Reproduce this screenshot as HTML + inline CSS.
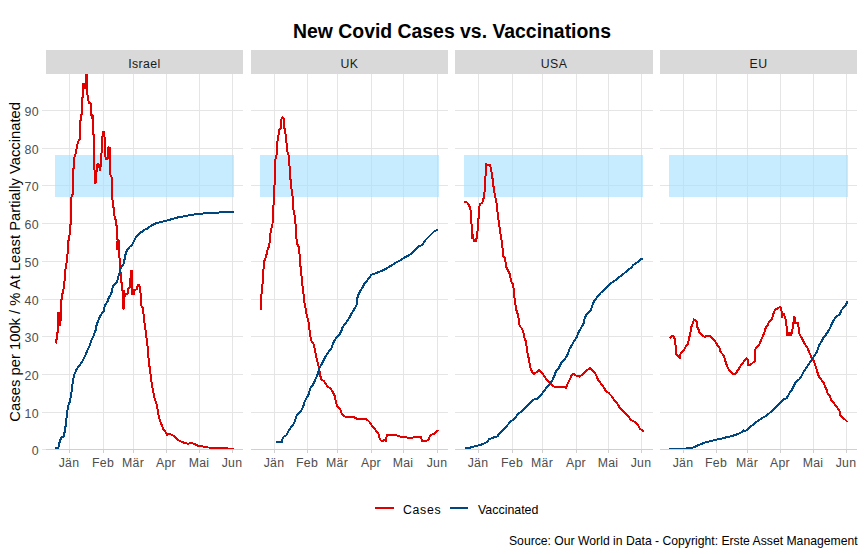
<!DOCTYPE html><html><head><meta charset="utf-8"><style>html,body{margin:0;padding:0;background:#fff;width:865px;height:554px;overflow:hidden}svg{display:block}text{font-family:'Liberation Sans',sans-serif}</style></head><body>
<svg width="865" height="554" viewBox="0 0 865 554">
<rect x="0" y="0" width="865" height="554" fill="#fff"/>
<text x="452" y="37.7" text-anchor="middle" font-size="19.4" font-weight="bold" fill="#000">New Covid Cases vs. Vaccinations</text>
<rect x="46" y="50" width="197" height="24" fill="#D9D9D9"/>
<text x="144.5" y="67.7" text-anchor="middle" font-size="12.3" letter-spacing="0.4" fill="#1A1A1A">Israel</text>
<rect x="251" y="50" width="197" height="24" fill="#D9D9D9"/>
<text x="349.5" y="67.7" text-anchor="middle" font-size="12.3" letter-spacing="0.4" fill="#1A1A1A">UK</text>
<rect x="455" y="50" width="198" height="24" fill="#D9D9D9"/>
<text x="554.0" y="67.7" text-anchor="middle" font-size="12.3" letter-spacing="0.4" fill="#1A1A1A">USA</text>
<rect x="660" y="50" width="197" height="24" fill="#D9D9D9"/>
<text x="758.5" y="67.7" text-anchor="middle" font-size="12.3" letter-spacing="0.4" fill="#1A1A1A">EU</text>
<g shape-rendering="crispEdges">
<rect x="46" y="412" width="197" height="1" fill="#E5E5E5"/>
<rect x="46" y="374" width="197" height="1" fill="#E5E5E5"/>
<rect x="46" y="336" width="197" height="1" fill="#E5E5E5"/>
<rect x="46" y="299" width="197" height="1" fill="#E5E5E5"/>
<rect x="46" y="261" width="197" height="1" fill="#E5E5E5"/>
<rect x="46" y="223" width="197" height="1" fill="#E5E5E5"/>
<rect x="46" y="185" width="197" height="1" fill="#E5E5E5"/>
<rect x="46" y="148" width="197" height="1" fill="#E5E5E5"/>
<rect x="46" y="110" width="197" height="1" fill="#E5E5E5"/>
<rect x="69" y="74" width="1" height="375" fill="#E5E5E5"/>
<rect x="103" y="74" width="1" height="375" fill="#E5E5E5"/>
<rect x="133" y="74" width="1" height="375" fill="#E5E5E5"/>
<rect x="166" y="74" width="1" height="375" fill="#E5E5E5"/>
<rect x="199" y="74" width="1" height="375" fill="#E5E5E5"/>
<rect x="232" y="74" width="1" height="375" fill="#E5E5E5"/>
<rect x="251" y="412" width="197" height="1" fill="#E5E5E5"/>
<rect x="251" y="374" width="197" height="1" fill="#E5E5E5"/>
<rect x="251" y="336" width="197" height="1" fill="#E5E5E5"/>
<rect x="251" y="299" width="197" height="1" fill="#E5E5E5"/>
<rect x="251" y="261" width="197" height="1" fill="#E5E5E5"/>
<rect x="251" y="223" width="197" height="1" fill="#E5E5E5"/>
<rect x="251" y="185" width="197" height="1" fill="#E5E5E5"/>
<rect x="251" y="148" width="197" height="1" fill="#E5E5E5"/>
<rect x="251" y="110" width="197" height="1" fill="#E5E5E5"/>
<rect x="274" y="74" width="1" height="375" fill="#E5E5E5"/>
<rect x="307" y="74" width="1" height="375" fill="#E5E5E5"/>
<rect x="337" y="74" width="1" height="375" fill="#E5E5E5"/>
<rect x="371" y="74" width="1" height="375" fill="#E5E5E5"/>
<rect x="403" y="74" width="1" height="375" fill="#E5E5E5"/>
<rect x="437" y="74" width="1" height="375" fill="#E5E5E5"/>
<rect x="455" y="412" width="198" height="1" fill="#E5E5E5"/>
<rect x="455" y="374" width="198" height="1" fill="#E5E5E5"/>
<rect x="455" y="336" width="198" height="1" fill="#E5E5E5"/>
<rect x="455" y="299" width="198" height="1" fill="#E5E5E5"/>
<rect x="455" y="261" width="198" height="1" fill="#E5E5E5"/>
<rect x="455" y="223" width="198" height="1" fill="#E5E5E5"/>
<rect x="455" y="185" width="198" height="1" fill="#E5E5E5"/>
<rect x="455" y="148" width="198" height="1" fill="#E5E5E5"/>
<rect x="455" y="110" width="198" height="1" fill="#E5E5E5"/>
<rect x="478" y="74" width="1" height="375" fill="#E5E5E5"/>
<rect x="512" y="74" width="1" height="375" fill="#E5E5E5"/>
<rect x="542" y="74" width="1" height="375" fill="#E5E5E5"/>
<rect x="576" y="74" width="1" height="375" fill="#E5E5E5"/>
<rect x="608" y="74" width="1" height="375" fill="#E5E5E5"/>
<rect x="641" y="74" width="1" height="375" fill="#E5E5E5"/>
<rect x="660" y="412" width="197" height="1" fill="#E5E5E5"/>
<rect x="660" y="374" width="197" height="1" fill="#E5E5E5"/>
<rect x="660" y="336" width="197" height="1" fill="#E5E5E5"/>
<rect x="660" y="299" width="197" height="1" fill="#E5E5E5"/>
<rect x="660" y="261" width="197" height="1" fill="#E5E5E5"/>
<rect x="660" y="223" width="197" height="1" fill="#E5E5E5"/>
<rect x="660" y="185" width="197" height="1" fill="#E5E5E5"/>
<rect x="660" y="148" width="197" height="1" fill="#E5E5E5"/>
<rect x="660" y="110" width="197" height="1" fill="#E5E5E5"/>
<rect x="683" y="74" width="1" height="375" fill="#E5E5E5"/>
<rect x="716" y="74" width="1" height="375" fill="#E5E5E5"/>
<rect x="747" y="74" width="1" height="375" fill="#E5E5E5"/>
<rect x="780" y="74" width="1" height="375" fill="#E5E5E5"/>
<rect x="813" y="74" width="1" height="375" fill="#E5E5E5"/>
<rect x="846" y="74" width="1" height="375" fill="#E5E5E5"/>
<rect x="42" y="449" width="4" height="1" fill="#E5E5E5"/>
<rect x="42" y="412" width="4" height="1" fill="#E5E5E5"/>
<rect x="42" y="374" width="4" height="1" fill="#E5E5E5"/>
<rect x="42" y="336" width="4" height="1" fill="#E5E5E5"/>
<rect x="42" y="299" width="4" height="1" fill="#E5E5E5"/>
<rect x="42" y="261" width="4" height="1" fill="#E5E5E5"/>
<rect x="42" y="223" width="4" height="1" fill="#E5E5E5"/>
<rect x="42" y="185" width="4" height="1" fill="#E5E5E5"/>
<rect x="42" y="148" width="4" height="1" fill="#E5E5E5"/>
<rect x="42" y="110" width="4" height="1" fill="#E5E5E5"/>
</g>
<rect x="55" y="155" width="179" height="42" fill="#A2DEFF" fill-opacity="0.6" shape-rendering="crispEdges"/>
<rect x="260" y="155" width="179" height="42" fill="#A2DEFF" fill-opacity="0.6" shape-rendering="crispEdges"/>
<rect x="464" y="155" width="179" height="42" fill="#A2DEFF" fill-opacity="0.6" shape-rendering="crispEdges"/>
<rect x="669" y="155" width="179" height="42" fill="#A2DEFF" fill-opacity="0.6" shape-rendering="crispEdges"/>
<polyline points="55.9,343.5 56.1,340.0 57.0,339.5 57.1,333.0 58.0,332.3 58.0,313.3 59.8,313.3 59.8,325.0 60.3,324.0 61.0,313.7 61.0,299.6 62.0,298.8 62.2,294.0 63.0,293.5 63.3,290.0 64.4,282.9 65.5,269.4 66.7,262.2 67.3,255.0 67.7,253.7 68.4,240.7 69.4,237.8 69.8,226.2 70.9,223.4 71.0,200.2 71.7,195.9 72.7,194.5 72.7,180.0 73.2,176.6 73.9,158.7 75.2,155.5 76.2,151.7 77.1,145.2 78.5,141.0 79.5,139.7 80.1,134.0 80.1,121.2 81.2,120.3 81.2,114.6 82.1,113.8 82.1,97.8 83.0,96.9 83.0,84.3 84.1,87.0 85.2,88.1 86.0,75.1 86.8,74.5 87.1,94.6 87.9,95.7 88.4,100.5 89.0,103.2 90.6,103.2 91.2,115.2 92.3,118.6 92.6,115.5 93.2,116.5 93.3,134.0 94.1,136.5 94.4,165.7 94.9,183.1 95.6,183.0 96.3,173.3 97.4,164.7 98.4,163.6 99.9,170.0 101.2,163.6 101.7,147.3 102.8,131.6 103.9,131.6 104.6,137.6 104.9,155.5 106.0,158.7 107.7,158.7 108.5,147.3 109.8,147.9 110.1,174.4 111.8,177.7 112.0,185.0 112.3,195.8 112.9,206.7 114.0,207.7 114.5,216.4 115.6,219.7 116.1,225.1 117.2,225.6 117.2,239.5 118.6,240.5 117.1,241.5 117.1,249.0 118.5,249.0 118.5,241.0 118.9,241.5 119.1,257.5 120.2,259.5 120.2,259.5 120.5,272.0 121.0,281.5 121.7,282.5 121.9,290.3 124.3,290.8 124.3,296.2 123.9,296.0 123.8,308.5 123.1,308.5 123.1,292.0 124.5,296.3 126.5,293.7 127.6,293.5 127.6,289.0 130.4,287.2 130.6,270.8 132.1,270.8 132.4,294.2 134.3,294.2 134.4,289.8 137.1,289.4 137.6,285.4 139.4,285.4 139.8,289.4 140.6,293.8 141.1,305.6 142.6,307.6 143.4,312.7 144.2,321.4 145.3,327.9 146.2,336.6 147.3,342.0 147.8,350.8 148.9,361.7 150.3,372.5 151.7,383.3 153.2,392.0 155.1,400.2 156.9,405.2 158.2,414.1 159.5,419.1 161.4,424.2 163.3,429.2 165.8,432.4 167.1,434.9 169.0,433.6 172.1,434.9 174.6,436.8 178.4,440.3 183.5,442.5 187.9,443.7 191.7,442.9 194.8,444.1 197.4,445.6 201.8,446.3 208.1,447.5 218.2,447.8 226.8,447.8 227.6,448.5 233.7,448.5" fill="none" stroke="#E00000" stroke-width="2" stroke-linejoin="round" stroke-linecap="butt" shape-rendering="crispEdges"/>
<polyline points="260.6,310.3 261.1,297.3 262.4,286.5 263.2,271.4 264.5,260.5 266.1,256.2 267.6,249.7 269.3,245.4 270.4,233.5 271.5,228.1 272.5,223.8 273.2,210.8 273.7,202.0 274.0,193.6 275.0,177.3 275.5,159.2 276.4,157.4 276.9,144.8 278.2,137.5 279.1,129.4 280.6,128.5 281.3,119.5 282.7,117.3 284.2,118.6 284.5,128.5 286.0,136.6 287.2,151.1 288.5,154.7 289.4,164.6 290.3,177.3 291.4,188.1 292.7,197.2 293.4,209.9 294.9,216.3 295.6,225.3 296.1,237.0 297.4,244.3 299.2,247.9 299.9,261.4 301.2,272.3 302.1,283.1 303.4,292.2 303.9,300.0 305.2,305.8 306.7,314.9 308.5,322.1 309.7,331.1 311.0,340.2 313.4,343.8 315.2,351.0 317.0,360.1 318.8,367.3 320.0,374.5 321.1,379.0 324.2,381.4 327.1,386.1 330.5,388.5 332.6,391.9 334.7,396.1 336.1,403.0 337.5,406.5 340.3,409.3 341.6,413.4 343.7,415.8 345.8,416.9 354.1,417.2 356.9,418.6 365.9,418.6 369.4,421.8 372.2,425.9 375.6,430.1 378.4,433.6 379.8,439.1 381.2,440.8 383.3,440.8 384.9,439.8 386.0,440.8 386.7,435.2 388.1,434.7 395.8,434.7 397.1,435.6 400.6,436.6 404.1,437.4 412.4,437.7 414.5,437.0 420.7,437.0 422.1,440.8 426.3,440.8 428.8,439.8 429.7,436.1 431.8,434.7 433.9,433.8 436.0,431.9 438.8,430.1" fill="none" stroke="#E00000" stroke-width="2" stroke-linejoin="round" stroke-linecap="butt" shape-rendering="crispEdges"/>
<polyline points="464.3,202.1 467.0,202.4 468.8,205.1 470.3,207.8 471.0,215.1 471.6,225.9 471.6,237.7 472.8,234.9 473.9,241.3 475.7,241.3 477.0,236.8 477.9,225.9 478.8,215.1 479.7,204.2 481.5,203.3 482.9,201.5 484.2,195.2 485.1,187.0 486.0,163.6 487.8,165.4 490.2,165.4 491.4,170.8 492.7,179.8 493.8,188.9 495.1,197.0 496.3,200.6 497.4,211.5 498.7,221.4 499.9,229.5 501.0,236.8 502.3,245.8 503.1,255.8 504.9,257.6 506.1,266.7 507.9,270.3 509.7,273.9 511.0,281.1 513.3,284.7 513.9,293.7 515.1,302.8 516.4,310.0 517.9,314.5 518.8,319.0 519.7,326.2 521.5,328.0 523.3,331.6 524.2,337.1 526.0,341.5 526.7,348.0 527.6,353.4 528.7,358.3 529.7,364.2 530.8,369.6 533.5,374.0 536.2,372.3 538.9,370.2 542.2,372.9 544.9,377.2 547.6,381.0 550.9,383.7 553.6,386.4 555.7,387.5 557.9,387.0 563.3,387.0 566.0,387.8 567.1,384.8 568.7,381.5 570.3,378.3 572.0,374.5 573.6,374.0 576.3,375.6 579.5,376.7 582.8,374.0 586.0,370.7 590.4,368.0 592.9,370.8 595.8,374.4 597.9,379.5 600.1,382.4 603.0,386.0 605.9,391.0 608.8,393.2 611.6,396.1 614.5,400.4 616.7,402.5 619.6,407.6 623.2,411.2 627.5,415.5 631.1,419.9 634.7,422.0 637.6,424.2 639.8,428.5 643.7,431.4" fill="none" stroke="#E00000" stroke-width="2" stroke-linejoin="round" stroke-linecap="butt" shape-rendering="crispEdges"/>
<polyline points="669.5,337.1 670.7,337.9 671.8,335.6 673.6,336.0 674.7,338.9 675.7,346.9 676.4,354.1 678.2,356.7 680.1,358.1 680.5,354.1 682.2,351.9 684.4,349.0 686.3,345.4 688.0,344.0 688.7,339.7 690.2,333.9 691.6,325.9 693.0,323.1 693.8,319.4 695.9,320.6 696.9,321.6 697.4,327.4 698.8,330.3 699.8,333.2 701.7,334.6 704.6,337.1 707.5,335.6 709.7,336.0 712.5,338.9 715.4,341.8 717.6,345.4 719.8,348.3 720.5,351.9 722.6,354.1 724.1,356.3 725.2,360.6 726.3,364.2 728.1,368.5 729.9,371.4 732.8,373.6 735.6,374.0 737.1,371.4 738.5,369.3 741.4,364.7 744.1,361.1 746.4,358.0 747.7,359.3 748.2,365.4 750.2,365.1 752.9,362.7 754.9,360.7 755.3,349.2 757.0,347.1 759.7,343.7 761.0,340.4 763.0,335.6 764.4,332.2 765.8,327.5 767.8,325.5 768.9,322.1 771.2,320.0 772.5,317.3 773.9,311.9 775.9,309.2 777.9,308.5 780.0,306.5 781.3,308.5 782.0,316.7 784.0,314.0 785.4,318.7 786.7,327.5 786.9,335.3 790.9,335.3 790.9,332.6 787.9,332.6 787.9,334.2 791.6,333.5 792.2,331.6 793.5,322.1 793.8,316.7 794.9,318.0 795.5,323.4 797.6,322.8 798.7,328.2 799.6,334.3 801.6,337.6 803.7,341.7 804.9,344.1 807.3,347.3 808.9,351.4 810.6,355.4 811.7,358.7 813.8,361.1 815.4,366.0 817.1,370.9 817.9,374.1 819.5,377.4 821.9,380.6 824.0,383.0 825.2,387.1 826.8,390.3 827.9,394.4 830.0,396.0 830.9,400.1 833.3,402.5 835.7,405.8 838.2,409.0 839.8,411.5 840.3,415.0 843.0,418.0 845.5,419.9 847.4,422.0" fill="none" stroke="#E00000" stroke-width="2" stroke-linejoin="round" stroke-linecap="butt" shape-rendering="crispEdges"/>
<polyline points="55.3,448.4 57.6,448.3 58.6,446.8 58.7,443.2 59.8,442.6 59.9,440.1 61.3,439.2 61.4,437.3 63.1,437.3 63.9,436.2 64.0,432.4 65.0,431.7 65.0,428.0 65.7,425.8 66.2,420.2 67.0,413.5 67.9,406.8 69.2,403.4 70.1,400.6 71.0,394.5 71.8,390.0 72.6,382.8 74.1,375.2 76.4,369.5 79.2,365.8 82.0,362.0 84.9,356.3 87.3,350.6 89.6,345.9 91.5,340.2 93.8,335.5 95.7,329.8 96.8,324.1 99.1,318.4 101.0,314.6 103.8,310.8 104.8,305.2 107.6,301.4 108.8,297.4 111.0,294.2 112.0,290.9 113.1,285.5 115.3,283.3 117.1,281.7 118.2,276.8 119.6,272.5 120.7,268.2 122.3,266.0 124.3,262.7 124.6,258.3 125.8,253.3 127.2,249.9 129.4,247.0 131.9,245.4 133.4,242.6 134.4,240.0 135.9,237.5 138.0,235.3 140.9,232.4 143.1,231.2 145.3,229.2 147.1,229.0 149.6,226.8 151.8,225.3 154.7,223.8 157.5,222.9 159.3,222.3 164.2,221.2 168.1,220.1 172.5,219.0 175.5,218.0 179.0,217.1 185.1,216.2 189.5,215.2 195.5,214.2 204.3,213.4 221.3,212.4 233.8,211.9" fill="none" stroke="#00467F" stroke-width="2" stroke-linejoin="round" stroke-linecap="butt" shape-rendering="crispEdges"/>
<polyline points="276.2,441.9 282.1,441.9 282.7,437.8 284.4,436.1 286.2,435.5 288.0,432.0 289.7,429.0 292.1,426.1 294.4,422.6 295.2,419.6 296.8,415.5 297.9,413.8 299.7,412.6 301.5,410.2 303.2,406.7 304.4,402.6 305.6,399.7 307.3,396.7 309.1,393.2 309.7,389.7 310.8,387.3 312.5,385.4 315.2,379.9 317.5,374.5 319.7,367.3 322.4,362.8 325.1,357.4 327.8,352.8 331.4,348.3 333.2,342.9 335.9,338.4 338.7,335.7 341.4,331.1 342.3,327.5 345.9,323.0 349.5,317.6 351.3,314.0 354.0,309.5 356.6,304.9 357.5,297.5 358.9,293.6 360.4,290.5 362.7,287.5 364.0,284.4 366.6,281.3 368.9,278.3 371.2,274.9 374.2,273.7 378.8,272.1 384.2,269.8 388.0,267.5 391.9,265.2 396.5,262.2 401.1,259.9 404.9,257.1 408.7,255.6 411.8,253.0 415.6,249.9 418.7,246.1 421.8,245.3 425.6,239.9 430.2,235.3 434.8,230.7 437.9,230.0" fill="none" stroke="#00467F" stroke-width="2" stroke-linejoin="round" stroke-linecap="butt" shape-rendering="crispEdges"/>
<polyline points="465.0,448.4 469.0,447.9 472.3,447.0 476.8,445.9 480.7,444.8 484.0,443.5 487.4,441.7 489.1,439.2 492.4,438.1 494.7,436.8 498.0,436.4 498.6,434.2 502.5,430.3 507.0,425.6 510.3,421.9 512.6,420.0 515.4,418.0 518.2,413.5 521.0,411.8 523.8,409.6 527.1,405.7 530.5,402.3 533.8,399.5 536.6,399.2 539.4,396.7 542.2,393.4 544.9,389.7 549.2,384.3 552.5,379.9 554.6,375.1 555.7,371.8 558.4,368.6 561.7,362.1 564.4,359.9 567.6,354.5 569.3,349.6 572.0,344.7 575.2,339.3 576.6,337.7 578.2,332.8 581.5,327.1 583.9,323.1 584.7,318.2 586.4,314.9 588.0,312.5 590.4,310.9 592.0,306.8 593.7,301.9 596.1,298.7 598.5,295.5 601.0,292.5 604.2,289.8 607.5,286.5 610.7,283.3 614.8,280.8 618.8,277.3 622.9,274.4 627.0,270.8 631.0,267.9 633.4,264.9 637.5,262.2 640.7,259.4 643.2,258.9" fill="none" stroke="#00467F" stroke-width="2" stroke-linejoin="round" stroke-linecap="butt" shape-rendering="crispEdges"/>
<polyline points="669.2,448.5 686.6,448.5 692.2,447.9 696.9,445.8 701.6,443.9 704.4,442.7 710.1,441.3 714.8,439.9 720.4,439.0 725.1,437.6 729.8,436.6 734.5,435.2 738.2,433.8 741.1,432.4 743.5,430.4 745.9,430.7 748.8,428.6 751.1,426.3 754.1,423.9 757.6,421.0 761.1,418.7 764.6,416.7 768.1,414.3 771.1,411.6 774.0,409.3 777.5,405.8 781.0,402.2 784.0,399.3 786.7,398.1 788.1,395.8 789.8,392.3 792.2,389.3 793.9,385.8 796.3,381.1 798.6,380.0 801.0,377.0 803.3,372.3 806.5,367.6 809.7,362.7 812.2,358.7 814.6,355.4 817.1,351.4 817.9,348.9 819.5,344.6 822.0,340.6 823.9,336.7 825.9,334.7 827.9,331.7 829.9,328.2 831.4,324.8 832.9,321.8 834.4,319.3 836.4,316.3 838.3,315.3 839.8,314.3 841.3,310.4 843.3,307.9 845.3,305.9 846.6,303.4 847.6,300.7" fill="none" stroke="#00467F" stroke-width="2" stroke-linejoin="round" stroke-linecap="butt" shape-rendering="crispEdges"/>
<g shape-rendering="crispEdges">
<rect x="46" y="449" width="197" height="1" fill="#D0D0D0"/>
<rect x="69" y="449" width="1" height="4" fill="#D0D0D0"/>
<rect x="103" y="449" width="1" height="4" fill="#D0D0D0"/>
<rect x="133" y="449" width="1" height="4" fill="#D0D0D0"/>
<rect x="166" y="449" width="1" height="4" fill="#D0D0D0"/>
<rect x="199" y="449" width="1" height="4" fill="#D0D0D0"/>
<rect x="232" y="449" width="1" height="4" fill="#D0D0D0"/>
<rect x="251" y="449" width="197" height="1" fill="#D0D0D0"/>
<rect x="274" y="449" width="1" height="4" fill="#D0D0D0"/>
<rect x="307" y="449" width="1" height="4" fill="#D0D0D0"/>
<rect x="337" y="449" width="1" height="4" fill="#D0D0D0"/>
<rect x="371" y="449" width="1" height="4" fill="#D0D0D0"/>
<rect x="403" y="449" width="1" height="4" fill="#D0D0D0"/>
<rect x="437" y="449" width="1" height="4" fill="#D0D0D0"/>
<rect x="455" y="449" width="198" height="1" fill="#D0D0D0"/>
<rect x="478" y="449" width="1" height="4" fill="#D0D0D0"/>
<rect x="512" y="449" width="1" height="4" fill="#D0D0D0"/>
<rect x="542" y="449" width="1" height="4" fill="#D0D0D0"/>
<rect x="576" y="449" width="1" height="4" fill="#D0D0D0"/>
<rect x="608" y="449" width="1" height="4" fill="#D0D0D0"/>
<rect x="641" y="449" width="1" height="4" fill="#D0D0D0"/>
<rect x="660" y="449" width="197" height="1" fill="#D0D0D0"/>
<rect x="683" y="449" width="1" height="4" fill="#D0D0D0"/>
<rect x="716" y="449" width="1" height="4" fill="#D0D0D0"/>
<rect x="747" y="449" width="1" height="4" fill="#D0D0D0"/>
<rect x="780" y="449" width="1" height="4" fill="#D0D0D0"/>
<rect x="813" y="449" width="1" height="4" fill="#D0D0D0"/>
<rect x="846" y="449" width="1" height="4" fill="#D0D0D0"/>
</g>
<text x="38.9" y="454.8" text-anchor="end" font-size="12.4" letter-spacing="0.3" fill="#4D4D4D">0</text>
<text x="38.9" y="417.8" text-anchor="end" font-size="12.4" letter-spacing="0.3" fill="#4D4D4D">10</text>
<text x="38.9" y="379.8" text-anchor="end" font-size="12.4" letter-spacing="0.3" fill="#4D4D4D">20</text>
<text x="38.9" y="341.8" text-anchor="end" font-size="12.4" letter-spacing="0.3" fill="#4D4D4D">30</text>
<text x="38.9" y="304.8" text-anchor="end" font-size="12.4" letter-spacing="0.3" fill="#4D4D4D">40</text>
<text x="38.9" y="266.8" text-anchor="end" font-size="12.4" letter-spacing="0.3" fill="#4D4D4D">50</text>
<text x="38.9" y="228.8" text-anchor="end" font-size="12.4" letter-spacing="0.3" fill="#4D4D4D">60</text>
<text x="38.9" y="190.8" text-anchor="end" font-size="12.4" letter-spacing="0.3" fill="#4D4D4D">70</text>
<text x="38.9" y="153.8" text-anchor="end" font-size="12.4" letter-spacing="0.3" fill="#4D4D4D">80</text>
<text x="38.9" y="115.8" text-anchor="end" font-size="12.4" letter-spacing="0.3" fill="#4D4D4D">90</text>
<text x="69.0" y="466.9" text-anchor="middle" font-size="12.3" letter-spacing="0.3" fill="#4D4D4D">Jän</text>
<text x="103.0" y="466.9" text-anchor="middle" font-size="12.3" letter-spacing="0.3" fill="#4D4D4D">Feb</text>
<text x="133.0" y="466.9" text-anchor="middle" font-size="12.3" letter-spacing="0.3" fill="#4D4D4D">Mär</text>
<text x="166.0" y="466.9" text-anchor="middle" font-size="12.3" letter-spacing="0.3" fill="#4D4D4D">Apr</text>
<text x="199.0" y="466.9" text-anchor="middle" font-size="12.3" letter-spacing="0.3" fill="#4D4D4D">Mai</text>
<text x="232.0" y="466.9" text-anchor="middle" font-size="12.3" letter-spacing="0.3" fill="#4D4D4D">Jun</text>
<text x="274.0" y="466.9" text-anchor="middle" font-size="12.3" letter-spacing="0.3" fill="#4D4D4D">Jän</text>
<text x="307.0" y="466.9" text-anchor="middle" font-size="12.3" letter-spacing="0.3" fill="#4D4D4D">Feb</text>
<text x="337.0" y="466.9" text-anchor="middle" font-size="12.3" letter-spacing="0.3" fill="#4D4D4D">Mär</text>
<text x="371.0" y="466.9" text-anchor="middle" font-size="12.3" letter-spacing="0.3" fill="#4D4D4D">Apr</text>
<text x="403.0" y="466.9" text-anchor="middle" font-size="12.3" letter-spacing="0.3" fill="#4D4D4D">Mai</text>
<text x="437.0" y="466.9" text-anchor="middle" font-size="12.3" letter-spacing="0.3" fill="#4D4D4D">Jun</text>
<text x="478.0" y="466.9" text-anchor="middle" font-size="12.3" letter-spacing="0.3" fill="#4D4D4D">Jän</text>
<text x="512.0" y="466.9" text-anchor="middle" font-size="12.3" letter-spacing="0.3" fill="#4D4D4D">Feb</text>
<text x="542.0" y="466.9" text-anchor="middle" font-size="12.3" letter-spacing="0.3" fill="#4D4D4D">Mär</text>
<text x="576.0" y="466.9" text-anchor="middle" font-size="12.3" letter-spacing="0.3" fill="#4D4D4D">Apr</text>
<text x="608.0" y="466.9" text-anchor="middle" font-size="12.3" letter-spacing="0.3" fill="#4D4D4D">Mai</text>
<text x="641.0" y="466.9" text-anchor="middle" font-size="12.3" letter-spacing="0.3" fill="#4D4D4D">Jun</text>
<text x="683.0" y="466.9" text-anchor="middle" font-size="12.3" letter-spacing="0.3" fill="#4D4D4D">Jän</text>
<text x="716.0" y="466.9" text-anchor="middle" font-size="12.3" letter-spacing="0.3" fill="#4D4D4D">Feb</text>
<text x="747.0" y="466.9" text-anchor="middle" font-size="12.3" letter-spacing="0.3" fill="#4D4D4D">Mär</text>
<text x="780.0" y="466.9" text-anchor="middle" font-size="12.3" letter-spacing="0.3" fill="#4D4D4D">Apr</text>
<text x="813.0" y="466.9" text-anchor="middle" font-size="12.3" letter-spacing="0.3" fill="#4D4D4D">Mai</text>
<text x="846.0" y="466.9" text-anchor="middle" font-size="12.3" letter-spacing="0.3" fill="#4D4D4D">Jun</text>
<text transform="translate(20.3,261.8) rotate(-90)" text-anchor="middle" font-size="14.8" fill="#000">Cases per 100k / % At Least Partially Vaccinated</text>
<rect x="375" y="507" width="19" height="2" fill="#E00000"/>
<text x="403" y="513.8" font-size="12.3" fill="#000" letter-spacing="0.7">Cases</text>
<rect x="450" y="507" width="18" height="2" fill="#00467F"/>
<text x="478" y="513.8" font-size="12.4" fill="#000">Vaccinated</text>
<text x="857.6" y="544.9" text-anchor="end" font-size="12.2" fill="#000">Source: Our World in Data - Copyright: Erste Asset Management</text>
</svg></body></html>
